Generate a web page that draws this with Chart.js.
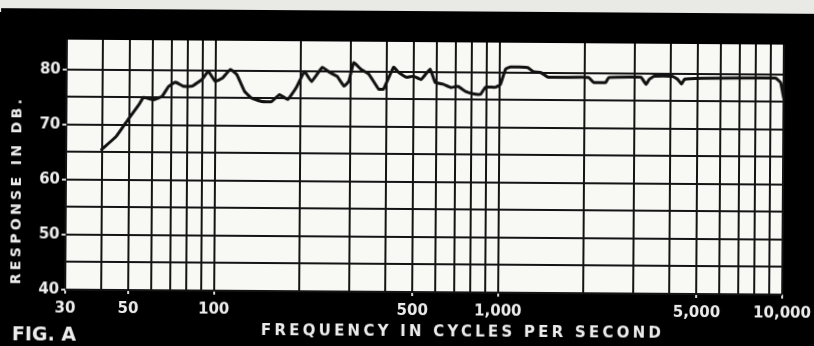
<!DOCTYPE html>
<html>
<head>
<meta charset="utf-8">
<title>Fig. A - response in db</title>
<script src="https://cdn.jsdelivr.net/npm/chart.js@4.4.1/dist/chart.umd.min.js"></script>
<style>
  html, body { margin: 0; padding: 0; }
  body {
    width: 814px;
    height: 346px;
    overflow: hidden;
    background: linear-gradient(#e9e9e6 0 12px, #000 12px);
  }
  /* the scan sits a little crooked */
  #wrap { width: 814px; height: 346px; transform: rotate(0.4deg); }
</style>
</head>
<body>
<div id="wrap"><canvas id="responseChart" width="814" height="346"></canvas></div>
<script>
// * values
const freqHz = [
  40, 45, 49.5, 54, 56, 60.5, 65, 68.5, 72.5, 77, 83, 90, 94.5, 100,
  106, 113, 119, 127, 134.5, 146, 158, 168.5, 180, 193, 206, 218, 238,
  252, 268, 284, 295, 307, 325, 347, 376, 391, 424, 441, 470, 498, 530,
  570, 594, 633, 675, 714, 761, 825, 859, 894, 968, 1008, 1050, 1094,
  1258, 1311, 1399, 1482, 2056, 2143, 2365, 2423, 2926, 3148, 3281, 3363,
  3503, 4059, 4230, 4370, 4480, 5150, 9366, 9757, 10000,
];
const responseDb = [
  65.5, 67.9, 71.0, 73.7, 75.0, 74.6, 75.2, 77.0, 77.8, 77.1, 77.1, 78.4, 79.8, 78.0,
  78.6, 80.2, 79.3, 76.2, 75.0, 74.4, 74.4, 75.7, 74.8, 77.0, 79.9, 78.1, 80.7,
  79.8, 79.1, 77.3, 78.2, 81.6, 80.4, 79.5, 76.8, 76.8, 80.8, 79.9, 79.0, 79.2, 78.6,
  80.5, 78.1, 77.8, 77.2, 77.4, 76.5, 76.0, 76.0, 77.3, 77.3, 77.8, 80.6, 81.0,
  80.9, 80.2, 80.0, 79.2, 79.2, 78.3, 78.3, 79.2, 79.3, 79.3, 78.0, 78.9,
  79.5, 79.5, 79.0, 78.1, 79.0, 79.2, 79.3, 78.5, 75.8,
];
// grid lines and the ticks that carry a label
const xGridHz = [
  30, 40, 50, 60, 70, 80, 90, 100, 200, 300, 400, 500, 600, 700, 800, 900,
  1000, 2000, 3000, 4000, 5000, 6000, 7000, 8000, 9000, 10000,
];
const xTickLabels = [30, 50, 100, 500, 1000, 5000, 10000];
const yGridDb = [40, 45, 50, 55, 60, 65, 70, 75, 80];
const yTickLabels = [40, 50, 60, 70, 80];
const xTitle = "FREQUENCY IN CYCLES PER SECOND";
const yTitle = "RESPONSE IN DB.";
const figLabel = "FIG. A";

const inkColor = "#141414";
const labelColor = "#ececec";
const tickFont = { family: "DejaVu Sans", size: 15, weight: "bold" };

const hasLabel = (list, v) => list.some((t) => Math.abs(t - v) < 1e-6 * t);

// ? text stretched to a given width, like the lettering on the original
function spacedText(ctx, text, x, y, width) {
  ctx.letterSpacing = "0px";
  const w = ctx.measureText(text).width;
  const gap = Math.max(0, (width - w) / (text.length - 1));
  ctx.letterSpacing = gap + "px";
  ctx.fillText(text, x, y);
  ctx.letterSpacing = "0px";
}

const paper = {
  id: "paper",
  beforeDraw(chart) {
    const { ctx, chartArea: a } = chart;
    ctx.save();
    ctx.fillStyle = "#000";
    ctx.fillRect(0, 0, chart.width, chart.height);
    ctx.fillStyle = "#e9e9e6";
    ctx.fillRect(0, 0, chart.width, 11);
    ctx.fillStyle = "#f8f8f5";
    ctx.fillRect(a.left, a.top, a.right - a.left, a.bottom - a.top);
    ctx.restore();
  },
  afterDraw(chart) {
    const ctx = chart.ctx;
    ctx.save();
    ctx.fillStyle = labelColor;
    ctx.textAlign = "left";
    ctx.textBaseline = "middle";

    ctx.font = 'bold 15px "DejaVu Sans"';
    spacedText(ctx, xTitle, 262, 332, 400);

    ctx.font = 'bold 19px "DejaVu Sans"';
    spacedText(ctx, figLabel, 13, 338, 62);

    ctx.translate(17, 195);
    ctx.rotate(-Math.PI / 2);
    ctx.font = 'bold 14px "DejaVu Sans"';
    spacedText(ctx, yTitle, -92, 0, 185);
    ctx.restore();
  },
};

const responseCanvas = document.getElementById("responseChart").getContext("2d");
const responseChart = new Chart(responseCanvas, {
  type: "line",
  data: {
    datasets: [
      {
        data: freqHz.map((f, i) => ({ x: f, y: responseDb[i] })),
        borderColor: "#111",
        borderWidth: 3,
        borderJoinStyle: "round",
        borderCapStyle: "round",
        pointRadius: 0,
        tension: 0.1,
        fill: false,
      },
    ],
  },
  options: {
    responsive: false,
    animation: false,
    devicePixelRatio: 1,
    events: [],
    layout: { padding: { left: 0, right: 31, top: 42, bottom: 0 } },
    plugins: {
      legend: { display: false },
      tooltip: { enabled: false },
    },
    scales: {
      x: {
        type: "logarithmic",
        min: 30,
        max: 10000,
        afterBuildTicks(scale) {
          scale.ticks = xGridHz.map((v) => ({ value: v }));
        },
        afterFit(scale) {
          scale.height = 54;
          scale.paddingLeft = 0;
          scale.paddingRight = 0;
        },
        border: { display: false },
        grid: {
          color: inkColor,
          lineWidth: 2,
          tickLength: 4,
          tickColor: (c) =>
            c.tick && hasLabel(xTickLabels, c.tick.value) ? "#d8d8d8" : "rgba(0,0,0,0)",
        },
        ticks: {
          autoSkip: false,
          maxRotation: 0,
          padding: 6,
          color: labelColor,
          font: tickFont,
          callback: (v) => (hasLabel(xTickLabels, v) ? v.toLocaleString("en-US") : ""),
        },
      },
      y: {
        min: 40,
        max: 85.4,
        afterBuildTicks(scale) {
          scale.ticks = yGridDb.map((v) => ({ value: v }));
        },
        afterFit(scale) {
          scale.width = 66;
          scale.paddingTop = 0;
          scale.paddingBottom = 0;
        },
        border: { display: false },
        grid: {
          color: inkColor,
          lineWidth: 2,
          tickLength: 4,
          tickColor: (c) =>
            c.tick && yTickLabels.includes(c.tick.value) ? "#d8d8d8" : "rgba(0,0,0,0)",
        },
        ticks: {
          padding: 2,
          color: labelColor,
          font: tickFont,
          callback: (v) => (yTickLabels.includes(v) ? String(v) : ""),
        },
      },
    },
  },
  plugins: [paper],
});
</script>
</body>
</html>
